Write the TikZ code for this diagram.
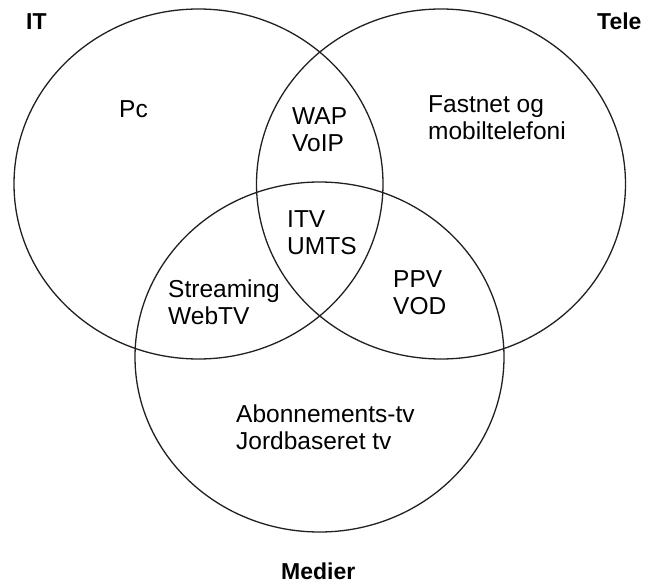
\documentclass[tikz,border=0pt]{standalone}
\usepackage{fontspec}
\setmainfont{Liberation Sans}
\usetikzlibrary{shapes.geometric}
\definecolor{ink}{HTML}{231F20}
\begin{document}
\begin{tikzpicture}[x=1pt,y=-1pt,
  setbox/.style={draw=ink, line width=1.3pt, ellipse, minimum width=369pt, minimum height=350pt, inner sep=0pt},
  lbl/.style={anchor=north west, inner sep=0pt, align=left, font=\fontsize{24.5}{27}\selectfont, text=black},
  ttl/.style={anchor=north west, inner sep=0pt, font=\fontsize{23}{27}\selectfont\bfseries, text=black}]
\useasboundingbox (0,0) rectangle (658,585);
\node[ttl] (tIT) at (26,13) {IT};
\node[ttl] (tTele) at (597,13) {Tele};
\node[ttl] (tMedier) at (281,563) {Medier};
\node[setbox] (it) at (198.5,184) {};
\node[setbox] (tele) at (441,184) {};
\node[setbox] (medier) at (319.5,357) {};
\node[lbl] (pc) at (119,100) {Pc};
\node[lbl] (wap) at (292,107) {WAP\\VoIP};
\node[lbl] (fast) at (428,95) {Fastnet og\\mobiltelefoni};
\node[lbl] (itv) at (287,210) {ITV\\UMTS};
\node[lbl] (ppv) at (393,270) {PPV\\VOD};
\node[lbl] (stream) at (168,280) {Streaming\\WebTV};
\node[lbl] (abon) at (236,405) {Abonnements-tv\\Jordbaseret tv};
\end{tikzpicture}
\end{document}
